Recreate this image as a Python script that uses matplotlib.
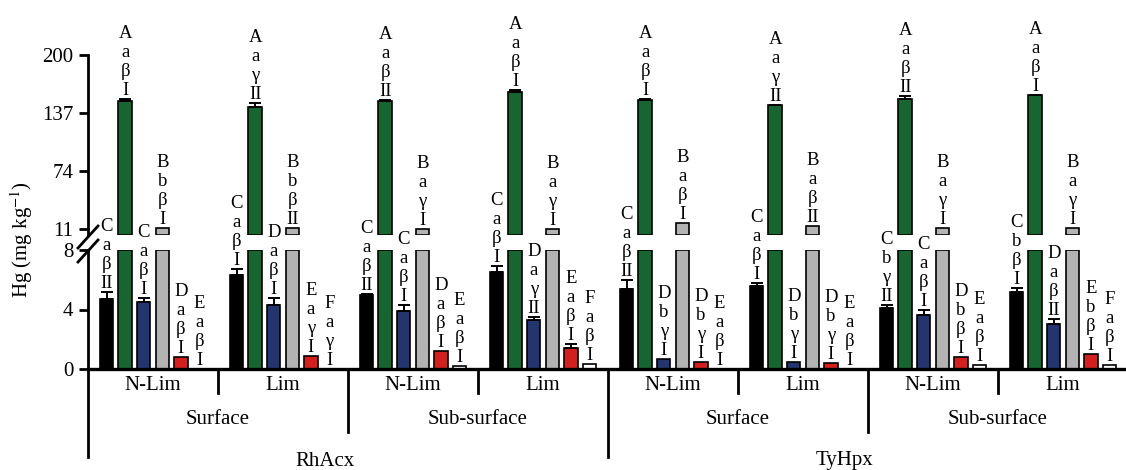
import numpy as np
import matplotlib.pyplot as plt
from matplotlib.transforms import blended_transform_factory
from matplotlib.lines import Line2D

plt.rcParams['font.family'] = ['Liberation Serif', 'DejaVu Serif']
plt.rcParams['mathtext.fontset'] = 'stix'
plt.rcParams['font.size'] = 14

# groups, left to right
treatments = ['N-Lim', 'Lim'] * 4
depths = ['Surface', 'Sub-surface'] * 2
species = ['RhAcx', 'TyHpx']

# Hg (mg/kg), six fractions per group
black = [4.7, 6.35, 5.0, 6.5, 5.4, 5.6, 4.1, 5.2]
black_err = [0.5, 0.35, 0.05, 0.4, 0.55, 0.2, 0.18, 0.22]
green = [150.5, 143.3, 150.5, 159.6, 151.0, 145.5, 152.7, 156.7]
green_err = [1.5, 4.3, 1.0, 2.0, 1.0, 0.5, 2.5, 0.5]
blue = [4.5, 4.3, 3.9, 3.3, 0.7, 0.5, 3.6, 3.0]
blue_err = [0.25, 0.45, 0.4, 0.2, 0.0, 0.0, 0.38, 0.33]
gray = [12.6, 12.6, 12.0, 12.0, 17.7, 14.7, 12.6, 12.6]
gray_err = [0.0] * 8
red = [0.83, 0.9, 1.2, 1.43, 0.45, 0.42, 0.83, 0.98]
red_err = [0.0, 0.0, 0.0, 0.23, 0.0, 0.0, 0.0, 0.0]
white = [0.03, 0.03, 0.2, 0.33, 0.03, 0.03, 0.27, 0.27]
white_err = [0.0] * 8

# significance letters stacked over each bar
black_lbl = ['C a β II', 'C a β I', 'C a β II', 'C a β I',
             'C a β II', 'C a β I', 'C b γ II', 'C b β I']
green_lbl = ['A a β I', 'A a γ II', 'A a β II', 'A a β I',
             'A a β I', 'A a γ II', 'A a β II', 'A a β I']
blue_lbl = ['C a β I', 'D a β I', 'C a β I', 'D a γ II',
            'D b γ I', 'D b γ I', 'C a β I', 'D a β II']
gray_lbl = ['B b β I', 'B b β II', 'B a γ I', 'B a γ I',
            'B a β I', 'B a β II', 'B a γ I', 'B a γ I']
red_lbl = ['D a β I', 'E a γ I', 'D a β I', 'E a β I',
           'D b γ I', 'D b γ I', 'D b β I', 'E b β I']
white_lbl = ['E a β I', 'F a γ I', 'E a β I', 'F a β I',
             'E a β I', 'E a β I', 'E a β I', 'F a β I']

series = [
    (black, black_err, black_lbl, '#000000'),
    (green, green_err, green_lbl, '#176631'),
    (blue, blue_err, blue_lbl, '#23346f'),
    (gray, gray_err, gray_lbl, '#b3b3b3'),
    (red, red_err, red_lbl, '#d41f1f'),
    (white, white_err, white_lbl, '#ffffff'),
]

lo_top = 8
hi_bot = 5
slot = 7   # six bars plus one slot of padding per group
bw = 0.72

W, H = 1126, 470
fig = plt.figure(figsize=(W / 100, H / 100), dpi=100)
left = 88 / W
ax_hi = fig.add_axes([left, 1 - 235 / H, 1 - left, 180 / H])
ax_lo = fig.add_axes([left, 1 - 369 / H, 1 - left, 119 / H])

ngroups = len(black)
xmax = (W - 88) / 130 * slot
px = 0.72  # points per pixel

for s, (vals, errs, lbls, col) in enumerate(series):
    vals = np.array(vals)
    errs = np.array(errs)
    x = np.arange(ngroups) * slot + 1 + s
    ax_lo.bar(x, np.minimum(vals, lo_top), width=bw, color=col,
              edgecolor='black', linewidth=1.2, zorder=2)
    big = vals > lo_top
    if big.any():
        ax_hi.bar(x[big], vals[big] - hi_bot, bottom=hi_bot, width=bw,
                  color=col, edgecolor='black', linewidth=1.2, zorder=2)
    for i in range(ngroups):
        ax = ax_hi if big[i] else ax_lo
        if errs[i] > 0:
            ax.errorbar(x[i], vals[i], yerr=[[0], [errs[i]]], fmt='none',
                        ecolor='black', elinewidth=1.4, capsize=4.5,
                        capthick=1.4, zorder=3)
        top = vals[i] + errs[i]
        for k, ch in enumerate(reversed(lbls[i].split())):
            ax.annotate(ch, (x[i], top), xytext=(0, (4 + 19 * k) * px),
                        textcoords='offset points', ha='center',
                        va='baseline', fontsize=13.5, annotation_clip=False)

for ax in (ax_hi, ax_lo):
    ax.set_xlim(0, xmax)
    ax.spines['top'].set_visible(False)
    ax.spines['right'].set_visible(False)
    ax.spines['left'].set_linewidth(2.0)
    ax.set_xticks([])
    ax.tick_params(axis='y', length=6.5, width=2.0, pad=4, labelsize=15)
    ax.patch.set_alpha(0)

ax_hi.spines['bottom'].set_visible(False)
ax_hi.set_ylim(hi_bot, 200)
ax_hi.set_yticks([11, 74, 137, 200])
ax_lo.set_ylim(0, lo_top)
ax_lo.set_yticks([0, 4, 8])
ax_lo.spines['bottom'].set_linewidth(2.4)

# break marks on the y axis
for yc in (237, 251):
    fig.add_artist(Line2D([78 / W, 98 / W],
                          [1 - (yc + 11) / H, 1 - (yc - 11) / H],
                          color='black', linewidth=2.0))

fig.text(22 / W, 1 - 240 / H, 'Hg (mg kg$^{-1}$)', rotation=90,
         ha='center', va='center', fontsize=15)

# category dividers and labels below the axis
tr = blended_transform_factory(ax_lo.transData, fig.transFigure)
y0 = 1 - 369 / H
y_short, y_mid, y_long = 1 - 393 / H, 1 - 432 / H, 1 - 457 / H
for g in range(ngroups):
    xb = g * slot
    if g % 4 == 0:
        yb = y_long
    elif g % 2 == 0:
        yb = y_mid
    else:
        yb = y_short
    fig.add_artist(Line2D([xb, xb], [y0, yb], transform=tr,
                          color='black', linewidth=2.0))
    fig.text(xb + slot / 2, 1 - 385 / H, treatments[g], transform=tr,
             ha='center', va='center', fontsize=15)
for d in range(len(depths)):
    fig.text(d * 2 * slot + slot, 1 - 420 / H, depths[d], transform=tr,
             ha='center', va='center', fontsize=15)
for sp in range(len(species)):
    fig.text(sp * 4 * slot + 12.75, 1 - 461 / H, species[sp],
             transform=tr, ha='center', va='center', fontsize=15)

fig.savefig('out.png', dpi=100)
